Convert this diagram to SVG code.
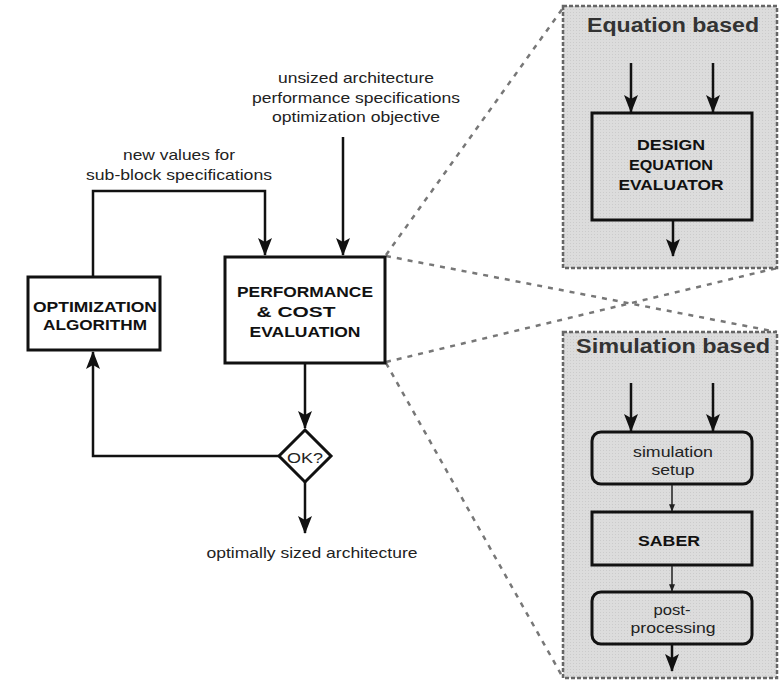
<svg xmlns="http://www.w3.org/2000/svg" width="781" height="692" viewBox="0 0 781 692">
  <defs>
    <marker id="head" viewBox="0 0 18 14" refX="17" refY="7" markerWidth="18" markerHeight="14" orient="auto" markerUnits="userSpaceOnUse">
      <path d="M0,0 L18,7 L0,14 L4,7 z" fill="#111"/>
    </marker>
    <marker id="headSmall" viewBox="0 0 10 8" refX="9" refY="4" markerWidth="8" markerHeight="6" orient="auto" markerUnits="userSpaceOnUse">
      <path d="M0,0 L10,4 L0,8 z" fill="#222"/>
    </marker>
    <pattern id="screen" width="3" height="3" patternUnits="userSpaceOnUse">
      <rect width="3" height="3" fill="#dcdcdc"/>
      <rect width="1" height="1" fill="#cbcbcb"/>
    </pattern>
  </defs>
  <style>
    .lbl { font-family: "Liberation Sans", Arial, sans-serif; font-size: 15px; fill: #222; text-anchor: middle; }
    .bold { font-family: "Liberation Sans", Arial, sans-serif; font-size: 15px; font-weight: bold; fill: #111; text-anchor: middle; }
    .title { font-family: "Liberation Sans", Arial, sans-serif; font-size: 20px; font-weight: bold; fill: #333; text-anchor: middle; }
    .box { fill: #fff; stroke: #111; stroke-width: 3; }
    .inner { fill: none; stroke: #111; stroke-width: 3; }
    .panel { fill: url(#screen); stroke: #666; stroke-width: 2.5; stroke-dasharray: 4 2; }
    .wire { fill: none; stroke: #111; stroke-width: 2.5; }
    .thin { fill: none; stroke: #222; stroke-width: 1.5; }
    .zoomline { fill: none; stroke: #777; stroke-width: 2.5; stroke-dasharray: 5 6; }
  </style>

  <rect width="781" height="692" fill="#fff"/>

  <!-- projection lines from the evaluation block to the two detail panels -->
  <g id="projections">
    <line class="zoomline" x1="386" y1="255" x2="563" y2="8"/>
    <line class="zoomline" x1="386" y1="256" x2="777" y2="332"/>
    <line class="zoomline" x1="386" y1="362" x2="777" y2="268"/>
    <line class="zoomline" x1="386" y1="363" x2="562" y2="676"/>
  </g>

  <!-- detail panel: equation based -->
  <g id="equation-panel">
    <rect class="panel" x="563" y="6" width="214" height="262"/>
    <text class="title" x="673" y="32" textLength="172" lengthAdjust="spacingAndGlyphs">Equation based</text>
  </g>
  <g id="design-equation-evaluator">
    <rect class="inner" x="592" y="113" width="160" height="107"/>
    <text class="bold" x="671" y="150" font-size="14" textLength="68" lengthAdjust="spacingAndGlyphs">DESIGN</text>
    <text class="bold" x="671" y="170" font-size="14" textLength="84" lengthAdjust="spacingAndGlyphs">EQUATION</text>
    <text class="bold" x="671" y="190" font-size="14" textLength="105" lengthAdjust="spacingAndGlyphs">EVALUATOR</text>
  </g>

  <!-- detail panel: simulation based -->
  <g id="simulation-panel">
    <rect class="panel" x="563" y="332" width="214" height="346"/>
    <text class="title" x="673" y="353" textLength="194" lengthAdjust="spacingAndGlyphs">Simulation based</text>
  </g>
  <g id="simulation-setup">
    <rect class="inner" x="592" y="432" width="160" height="52" rx="9"/>
    <text class="lbl" x="673" y="457" font-size="16" textLength="80" lengthAdjust="spacingAndGlyphs">simulation</text>
    <text class="lbl" x="673" y="475" font-size="16" textLength="43" lengthAdjust="spacingAndGlyphs">setup</text>
  </g>
  <g id="saber">
    <rect class="inner" x="592" y="512" width="160" height="53"/>
    <text class="bold" x="669" y="546" textLength="62" lengthAdjust="spacingAndGlyphs">SABER</text>
  </g>
  <g id="post-processing">
    <rect class="inner" x="592" y="592" width="160" height="52" rx="9"/>
    <text class="lbl" x="672" y="615" font-size="16" textLength="37" lengthAdjust="spacingAndGlyphs">post-</text>
    <text class="lbl" x="673" y="633" font-size="16" textLength="85" lengthAdjust="spacingAndGlyphs">processing</text>
  </g>

  <!-- main flow blocks -->
  <g id="optimization-algorithm">
    <rect class="box" x="28" y="277" width="132" height="73"/>
    <text class="bold" x="95" y="312" textLength="124" lengthAdjust="spacingAndGlyphs">OPTIMIZATION</text>
    <text class="bold" x="95" y="330" textLength="104" lengthAdjust="spacingAndGlyphs">ALGORITHM</text>
  </g>
  <g id="performance-cost-evaluation">
    <rect class="box" x="225" y="257" width="160" height="106"/>
    <text class="bold" x="305" y="297" textLength="136" lengthAdjust="spacingAndGlyphs">PERFORMANCE</text>
    <text class="bold" x="296" y="317" textLength="79" lengthAdjust="spacingAndGlyphs">&amp; COST</text>
    <text class="bold" x="305" y="337" textLength="111" lengthAdjust="spacingAndGlyphs">EVALUATION</text>
  </g>
  <g id="ok-decision">
    <polygon class="box" points="305,430 331,456 305,482 279,456"/>
    <text class="lbl" x="305" y="463" font-size="15" textLength="36" lengthAdjust="spacingAndGlyphs">OK?</text>
  </g>

  <!-- free labels -->
  <g id="inputs-label">
    <text class="lbl" x="356" y="83" textLength="156" lengthAdjust="spacingAndGlyphs">unsized architecture</text>
    <text class="lbl" x="356" y="103" textLength="208" lengthAdjust="spacingAndGlyphs">performance specifications</text>
    <text class="lbl" x="356" y="122" textLength="168" lengthAdjust="spacingAndGlyphs">optimization objective</text>
  </g>
  <g id="feedback-label">
    <text class="lbl" x="179" y="160" textLength="112" lengthAdjust="spacingAndGlyphs">new values for</text>
    <text class="lbl" x="179" y="180" textLength="186" lengthAdjust="spacingAndGlyphs">sub-block specifications</text>
  </g>
  <g id="result-label">
    <text class="lbl" x="312" y="558" textLength="211" lengthAdjust="spacingAndGlyphs">optimally sized architecture</text>
  </g>

  <!-- connectors -->
  <g id="connectors">
    <polyline class="wire" points="93,277 93,191 265,191 265,255" marker-end="url(#head)"/>
    <line class="wire" x1="343" y1="137" x2="343" y2="255" marker-end="url(#head)"/>
    <line class="wire" x1="305" y1="363" x2="305" y2="428" marker-end="url(#head)"/>
    <polyline class="wire" points="279,456 93,456 93,352" marker-end="url(#head)"/>
    <line class="wire" x1="305" y1="482" x2="305" y2="533" marker-end="url(#head)"/>

    <line class="wire" x1="631" y1="63" x2="631" y2="112" marker-end="url(#head)"/>
    <line class="wire" x1="713" y1="63" x2="713" y2="112" marker-end="url(#head)"/>
    <line class="wire" x1="673" y1="220" x2="673" y2="256" marker-end="url(#head)"/>

    <line class="wire" x1="631" y1="383" x2="631" y2="431" marker-end="url(#head)"/>
    <line class="wire" x1="713" y1="383" x2="713" y2="431" marker-end="url(#head)"/>
    <line class="thin" x1="672" y1="485" x2="672" y2="511" marker-end="url(#headSmall)"/>
    <line class="thin" x1="672" y1="566" x2="672" y2="591" marker-end="url(#headSmall)"/>
    <line class="wire" x1="672" y1="644" x2="672" y2="671" marker-end="url(#head)"/>
  </g>
</svg>
